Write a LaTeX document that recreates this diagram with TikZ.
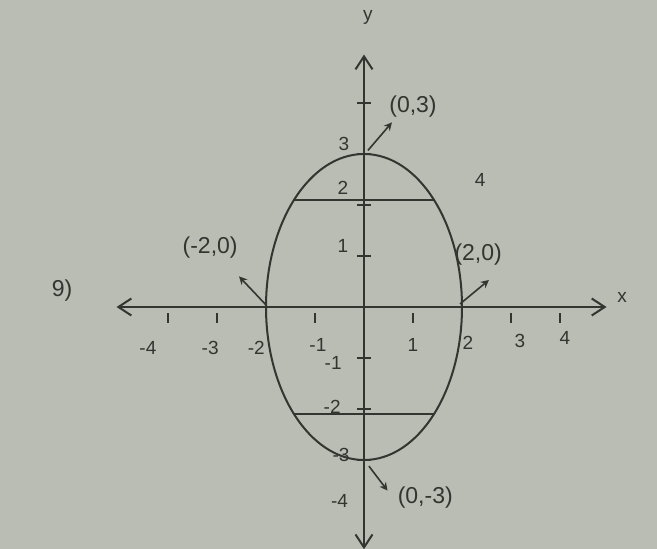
\documentclass[tikz,border=0pt]{standalone}
\usepackage{fontspec}
\setmainfont{Liberation Sans}
\usetikzlibrary{arrows.meta}
\definecolor{paper}{RGB}{186,189,180}
\definecolor{ink}{RGB}{50,53,48}
\begin{document}
\begin{tikzpicture}[x=1pt,y=-1pt,
  axisline/.style={ink, line width=2.6pt, {Straight Barb[length=13pt,width=17pt,line width=2pt]}-{Straight Barb[length=13pt,width=17pt,line width=2pt]}},
  curve/.style={ink, line width=2pt},
  tickmark/.style={ink, line width=1.6pt},
  ptarrow/.style={ink, line width=1.6pt, -{Stealth[length=8pt,width=8pt]}},
  ticklabel/.style={ink, font=\fontsize{19}{19}\selectfont, inner sep=0pt},
  ptlabel/.style={ink, font=\fontsize{23}{23}\selectfont, inner sep=0pt}]
\fill[paper] (0,0) rectangle (657,549);
\useasboundingbox (0,0) rectangle (657,549);
\begin{scope}[xshift=364pt, yshift=-307pt, x=49pt, y=51pt]
  % axes
  \coordinate (xl) at (-5.05,0);
  \coordinate (xr) at (4.95,0);
  \coordinate (yb) at (0,-4.75);
  \coordinate (yt) at (0,4.95);
  \draw[axisline] (xl) -- (xr);
  \draw[axisline] (yb) -- (yt);
  \node[ink, font=\fontsize{19}{19}\selectfont] (xlab) at (5.27,0.18) {x};
  \node[ink, font=\fontsize{19}{19}\selectfont] (ylab) at (0.08,5.67) {y};
  % ticks
  \foreach \i in {-4,-3,-1,1,3,4} \draw[tickmark] (\i,-0.12) -- (\i,-0.32);
  \foreach \j in {-3,-2,-1,1,2,3,4} \draw[tickmark] (-0.14,\j) -- (0.14,\j);
  % ellipse and chords
  \coordinate (top) at (0,3);
  \coordinate (bot) at (0,-3);
  \coordinate (lft) at (-2,0);
  \coordinate (rgt) at (2,0);
  \draw[curve] (0,0) ellipse [x radius=2, y radius=3];
  \coordinate (c1l) at (-1.44,2.1);
  \coordinate (c1r) at (1.44,2.1);
  \coordinate (c2l) at (-1.44,-2.1);
  \coordinate (c2r) at (1.44,-2.1);
  \draw[curve, line width=2.4pt] (c1l) -- (c1r);
  \draw[curve, line width=2.4pt] (c2l) -- (c2r);
  % x tick labels
  \node[ticklabel] (tx1) at (-4.41,-0.8) {-4};
  \node[ticklabel] (tx2) at (-3.14,-0.8) {-3};
  \node[ticklabel] (tx3) at (-2.2,-0.8) {-2};
  \node[ticklabel] (tx4) at (-0.94,-0.75) {-1};
  \node[ticklabel] (tx5) at (1.0,-0.75) {1};
  \node[ticklabel] (tx6) at (2.12,-0.7) {2};
  \node[ticklabel] (tx7) at (3.18,-0.66) {3};
  \node[ticklabel] (tx8) at (4.1,-0.6) {4};
  % y tick labels
  \node[ticklabel] (ty1) at (-0.41,3.2) {3};
  \node[ticklabel] (ty2) at (-0.43,2.33) {2};
  \node[ticklabel] (ty3) at (-0.43,1.2) {1};
  \node[ticklabel] (ty4) at (-0.63,-1.1) {-1};
  \node[ticklabel] (ty5) at (-0.65,-1.96) {-2};
  \node[ticklabel] (ty6) at (-0.47,-2.9) {-3};
  \node[ticklabel] (ty7) at (-0.5,-3.8) {-4};
  \node[ticklabel] (stray) at (2.37,2.49) {4};
  % point labels
  \node[ptlabel] (p1) at (1.0,3.94) {(0,3)};
  \node[ptlabel] (p2) at (-3.14,1.16) {(-2,0)};
  \node[ptlabel] (p3) at (2.33,1.02) {(2,0)};
  \node[ptlabel] (p4) at (1.25,-3.73) {(0,-3)};
  \node[ptlabel] (qn) at (-6.16,0.33) {9)};
  \coordinate (a1s) at (0.08,3.07);
  \coordinate (a1e) at (0.57,3.62);
  \coordinate (a2s) at (-2.0,0.04);
  \coordinate (a2e) at (-2.55,0.6);
  \coordinate (a3s) at (1.96,0.06);
  \coordinate (a3e) at (2.55,0.53);
  \coordinate (a4s) at (0.1,-3.12);
  \coordinate (a4e) at (0.48,-3.6);
  \draw[ptarrow] (a1s) -- (a1e);
  \draw[ptarrow] (a2s) -- (a2e);
  \draw[ptarrow] (a3s) -- (a3e);
  \draw[ptarrow] (a4s) -- (a4e);
\end{scope}
\end{tikzpicture}
\end{document}
